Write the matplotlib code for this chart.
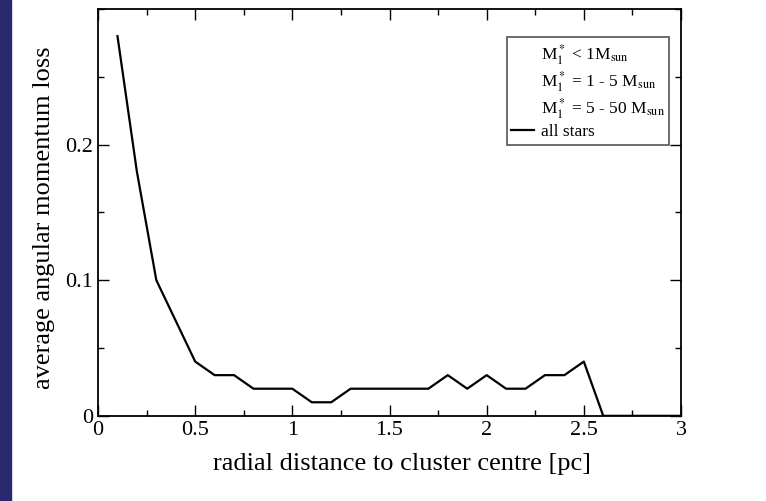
import matplotlib
matplotlib.use('Agg')
import matplotlib.pyplot as plt
from matplotlib.lines import Line2D
from matplotlib.patches import Rectangle
from matplotlib.ticker import MultipleLocator

# radial distance [pc] and average angular momentum loss
radius = [0.1, 0.2, 0.3, 0.4, 0.5, 0.6, 0.7, 0.8, 0.9, 1.0,
          1.1, 1.2, 1.3, 1.4, 1.5, 1.6, 1.7, 1.8, 1.9, 2.0,
          2.1, 2.2, 2.3, 2.4, 2.5, 2.6, 2.7, 2.8, 2.9, 3.0]
loss_all = [0.28, 0.18, 0.10, 0.07, 0.04, 0.03, 0.03, 0.02, 0.02, 0.02,
            0.01, 0.01, 0.02, 0.02, 0.02, 0.02, 0.02, 0.03, 0.02, 0.03,
            0.02, 0.02, 0.03, 0.03, 0.04, 0.0, 0.0, 0.0, 0.0, 0.0]

legend_labels = [r'M$_1^*$ < 1M$_{\rm sun}$',
                 r'M$_1^*$ = 1 - 5 M$_{\rm sun}$',
                 r'M$_1^*$ = 5 - 50 M$_{\rm sun}$',
                 'all stars']

plt.rcParams['font.family'] = ['Liberation Serif', 'DejaVu Serif']
plt.rcParams['mathtext.fontset'] = 'stix'

fig = plt.figure(figsize=(7.66, 5.01), dpi=100)
# dark blue strip on the left edge
fig.patches.append(Rectangle((0, 0), 11 / 766, 1, transform=fig.transFigure,
                             color='#29296e', zorder=0))

ax = fig.add_axes([0.128, 0.170, 0.761, 0.812])
ax.plot(radius, loss_all, color='black', linewidth=1.6)

ax.set_xlim(0, 3)
ax.set_ylim(0, 0.3)
ax.xaxis.set_minor_locator(MultipleLocator(0.25))
ax.yaxis.set_minor_locator(MultipleLocator(0.05))
ax.set_yticks([0, 0.1, 0.2])
ax.set_yticklabels(['0', '0.1', '0.2'])
ax.set_xticks([0, 0.5, 1, 1.5, 2, 2.5, 3])
ax.set_xticklabels(['0', '0.5', '1', '1.5', '2', '2.5', '3'])
ax.tick_params(which='both', direction='in', top=True, right=True,
               labelsize=16, width=1)
ax.tick_params(which='major', length=8)
ax.tick_params(which='minor', length=4)
for s in ax.spines.values():
    s.set_linewidth(1.3)

ax.set_xlabel('radial distance to cluster centre [pc]', fontsize=19)
ax.xaxis.set_label_coords(0.521, -0.092)
ax.set_ylabel('average angular momentum loss', fontsize=19, labelpad=6)
ax.yaxis.set_label_coords(-0.074, 0.488)

handles = [Line2D([], [], color='none'), Line2D([], [], color='none'),
           Line2D([], [], color='none'), Line2D([], [], color='black', linewidth=1.6)]
leg = ax.legend(handles, legend_labels, loc='upper right',
                bbox_to_anchor=(0.98, 0.93), borderaxespad=0, fontsize=12.5,
                fancybox=False, edgecolor='#555555', framealpha=1,
                handlelength=1.3, handletextpad=0.4, labelspacing=0.15,
                borderpad=0.25)
leg.get_frame().set_linewidth(1.2)

fig.savefig('out.png', dpi=100)
